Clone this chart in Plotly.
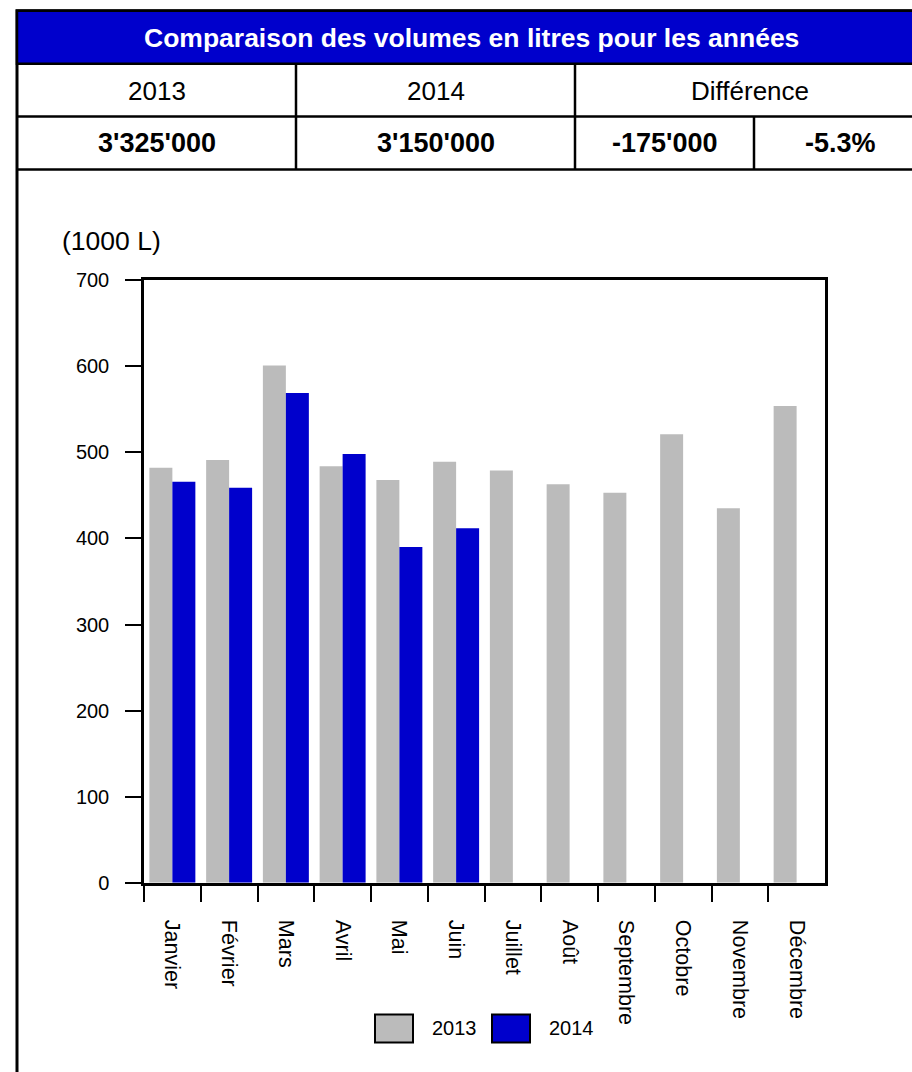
import plotly.graph_objects as go

# ---- data ----
months = ["Janvier", "Février", "Mars", "Avril", "Mai", "Juin",
          "Juillet", "Août", "Septembre", "Octobre", "Novembre", "Décembre"]
vol_2013 = [482, 491, 601, 484, 468, 489, 479, 463, 453, 521, 435, 554]
vol_2014 = [466, 459, 569, 498, 390, 412, None, None, None, None, None, None]
series_names = ["2013", "2014"]
table_title = "Comparaison des volumes en litres pour les années"
table_years = ["2013", "2014", "Différence"]
table_values = ["3'325'000", "3'150'000", "-175'000", "-5.3%"]
y_ticks = [0, 100, 200, 300, 400, 500, 600, 700]
y_unit = "(1000 L)"

GRAY = "#BBBBBB"
BLUE = "#0000CC"
FONT = "Liberation Sans, Arial, sans-serif"

W, H = 912, 1072
# vertical calibration of the viewing frame
Y0, KY = 9.2, 0.9817


def px(x):
    return x / W


def py(y):
    return 1 - ((y - Y0) / KY) / H


fig = go.Figure()
fig.add_trace(go.Bar(x=months, y=vol_2013, name=series_names[0],
                     marker=dict(color=GRAY, line=dict(width=0))))
fig.add_trace(go.Bar(x=months, y=vol_2014, name=series_names[1],
                     marker=dict(color=BLUE, line=dict(width=0))))

shapes = []
shapes.append(dict(type="rect", xref="paper", yref="paper",
                   x0=px(17), x1=px(925), y0=py(9), y1=py(1090),
                   line=dict(color="black", width=3), fillcolor="rgba(0,0,0,0)", layer="below"))
shapes.append(dict(type="rect", xref="paper", yref="paper",
                   x0=px(17), x1=px(925), y0=py(9), y1=py(62),
                   line=dict(color="black", width=2.5), fillcolor=BLUE, layer="below"))
for yy in [115, 168]:
    shapes.append(dict(type="line", xref="paper", yref="paper",
                       x0=px(17), x1=px(925), y0=py(yy), y1=py(yy),
                       line=dict(color="black", width=2.5)))
for xx in [296, 575]:
    shapes.append(dict(type="line", xref="paper", yref="paper",
                       x0=px(xx), x1=px(xx), y0=py(62), y1=py(168),
                       line=dict(color="black", width=2.5)))
shapes.append(dict(type="line", xref="paper", yref="paper",
                   x0=px(754), x1=px(754), y0=py(115), y1=py(168),
                   line=dict(color="black", width=2.5)))
shapes.append(dict(type="rect", xref="paper", yref="paper",
                   x0=px(375), x1=px(413), y0=py(1015), y1=py(1043),
                   line=dict(color="black", width=2), fillcolor=GRAY))
shapes.append(dict(type="rect", xref="paper", yref="paper",
                   x0=px(492), x1=px(530), y0=py(1015), y1=py(1043),
                   line=dict(color="black", width=2), fillcolor=BLUE))

ann = []
ann.append(dict(text="<b>" + table_title + "</b>", x=px(471), y=py(36), xref="paper", yref="paper",
                showarrow=False, xanchor="center", yanchor="middle",
                font=dict(family=FONT, size=26.5, color="white")))
for txt, cx in zip(table_years, [156.5, 435.5, 750]):
    ann.append(dict(text=txt, x=px(cx), y=py(89), xref="paper", yref="paper",
                    showarrow=False, xanchor="center", yanchor="middle",
                    font=dict(family=FONT, size=26, color="black")))
for txt, cx in zip(table_values, [156.5, 435.5, 664.5, 840]):
    ann.append(dict(text="<b>" + txt + "</b>", x=px(cx), y=py(142), xref="paper", yref="paper",
                    showarrow=False, xanchor="center", yanchor="middle",
                    font=dict(family=FONT, size=27, color="black")))
ann.append(dict(text=y_unit, x=px(111.5), y=py(240), xref="paper", yref="paper",
                showarrow=False, xanchor="center", yanchor="middle",
                font=dict(family=FONT, size=26.5, color="black")))
for txt, lx in zip(series_names, [430, 547]):
    ann.append(dict(text=txt, x=px(lx), y=py(1029), xref="paper", yref="paper",
                    showarrow=False, xanchor="left", yanchor="middle",
                    font=dict(family=FONT, size=20, color="black")))

fig.update_layout(
    width=W, height=H,
    margin=dict(l=0, r=0, t=0, b=0),
    paper_bgcolor="white", plot_bgcolor="white",
    barmode="group", bargap=0.19, bargroupgap=0,
    showlegend=False,
    font=dict(family=FONT, size=20, color="black"),
    shapes=shapes, annotations=ann,
    xaxis=dict(domain=[px(144), px(825)], type="category", tickson="boundaries",
               ticks="outside", ticklen=16, tickwidth=2, tickcolor="black",
               tickangle=90, showline=True, linewidth=2.5, linecolor="black", mirror=True,
               showgrid=False, ticklabelstandoff=30,
               tickfont=dict(family=FONT, size=21.5, color="black")),
    yaxis=dict(domain=[py(883), py(279)], range=[0, 700], tickvals=y_ticks,
               ticks="outside", ticklen=16, tickwidth=2, tickcolor="black",
               showline=True, linewidth=2.5, linecolor="black", mirror=True,
               showgrid=False, zeroline=False, ticklabelstandoff=12,
               tickfont=dict(family=FONT, size=20, color="black")),
)

fig.write_html("out.html", config=dict(displayModeBar=False),
               post_script="document.body.style.margin='0';document.body.style.overflow='hidden';")
